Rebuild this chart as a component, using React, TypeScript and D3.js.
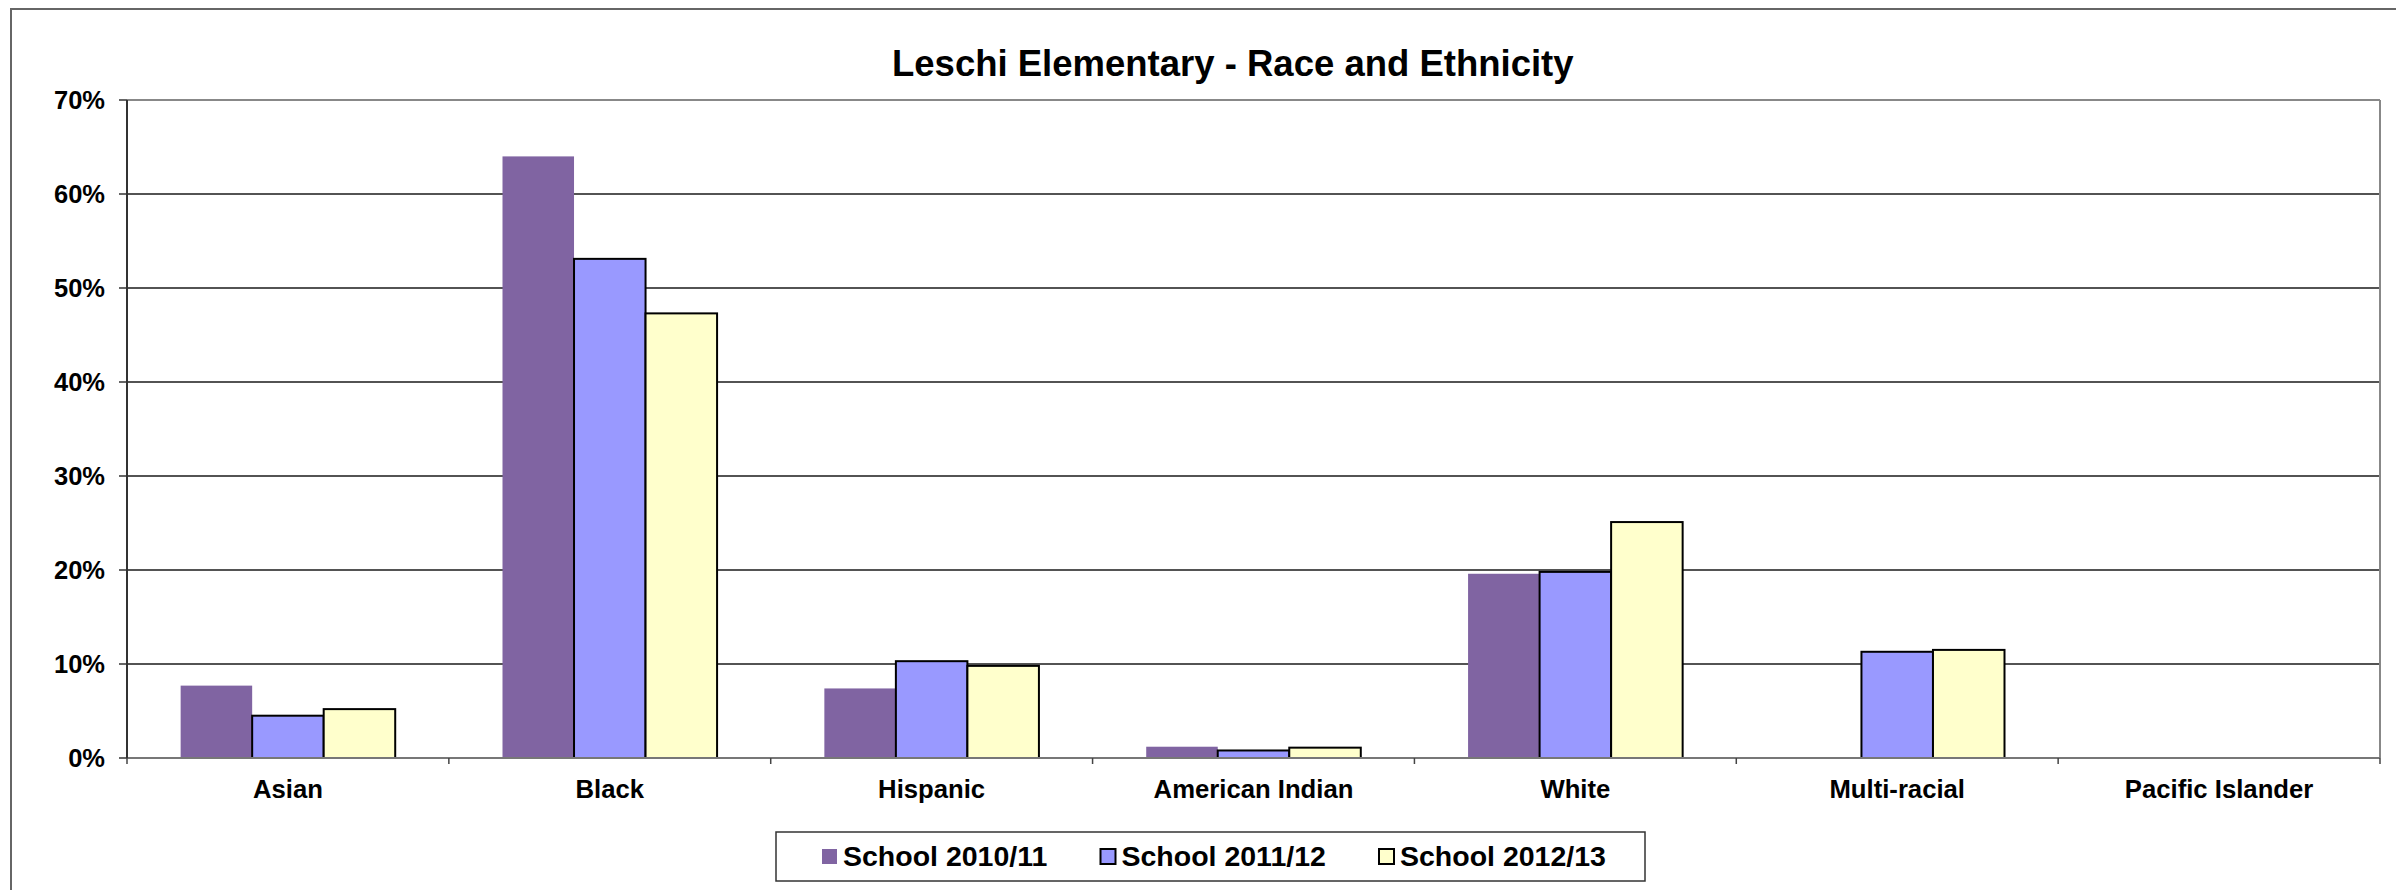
import React from 'react';
import * as d3 from 'd3';

const categories = ['Asian', 'Black', 'Hispanic', 'American Indian', 'White', 'Multi-racial', 'Pacific Islander'];
const seriesNames = ['School 2010/11', 'School 2011/12', 'School 2012/13'];
const values2010: (number | null)[] = [7.7, 64.0, 7.4, 1.2, 19.6, null, null];
const values2011: (number | null)[] = [4.5, 53.1, 10.3, 0.8, 19.8, 11.3, null];
const values2012: (number | null)[] = [5.2, 47.3, 9.8, 1.1, 25.1, 11.5, null];
const yTicks = [0, 10, 20, 30, 40, 50, 60, 70];
const seriesColors = ['#8064A2', '#9999FF', '#FFFFCC'];
const seriesStroke = ['none', '#000', '#000'];
const title = 'Leschi Elementary - Race and Ethnicity';

const W = 2396;
const H = 890;
const M = { left: 127, right: 2380, top: 100, bottom: 758 };
const FONT = '"Liberation Sans", Arial, sans-serif';

export default function App() {
  const series = [values2010, values2011, values2012];
  const x0 = d3.scaleBand<string>().domain(categories).range([M.left, M.right]).paddingInner(1 / 3).paddingOuter(1 / 6);
  const x1 = d3.scaleBand<string>().domain(seriesNames).range([0, x0.bandwidth()]).padding(0);
  const y = d3.scaleLinear().domain([0, 70]).range([M.bottom, M.top]);
  const step = x0.step();
  const boundaries = d3.range(categories.length + 1).map((i) => M.left + i * step);

  return (
    <svg width={W} height={H} style={{ position: 'absolute', left: 0, top: 0, background: '#fff' }} fontFamily={FONT}>
      <rect x={0} y={0} width={W} height={H} fill="#fff" />
      {/* outer chart border */}
      <rect x={11} y={9} width={W + 20} height={H + 20} fill="none" stroke="#666" strokeWidth={2} />
      {/* title */}
      <text x={892} y={76} fontSize={36.5} fontWeight="bold">{title}</text>

      {/* gridlines */}
      {yTicks.filter((t) => t > 0 && t < 70).map((t) => (
        <line key={t} x1={M.left} x2={M.right} y1={y(t)} y2={y(t)} stroke="#1a1a1a" strokeWidth={1.4} />
      ))}
      {/* plot frame top/right */}
      <line x1={M.left} x2={M.right} y1={y(70)} y2={y(70)} stroke="#888" strokeWidth={2} />
      <line x1={M.right} x2={M.right} y1={M.top} y2={M.bottom} stroke="#888" strokeWidth={2} />

      {/* bars */}
      {series.map((vals, si) => (
        <g key={si}>
          {vals.map((v, ci) => v == null ? null : (
            <rect key={ci}
              x={(x0(categories[ci]) as number) + (x1(seriesNames[si]) as number)}
              y={y(v)}
              width={x1.bandwidth()}
              height={y(0) - y(v)}
              fill={seriesColors[si]}
              stroke={seriesStroke[si]}
              strokeWidth={2}
            />
          ))}
        </g>
      ))}

      {/* axes */}
      <line x1={M.left} x2={M.right} y1={M.bottom} y2={M.bottom} stroke="#777" strokeWidth={2} />
      <line x1={M.left} x2={M.left} y1={M.top} y2={M.bottom} stroke="#333" strokeWidth={2} />
      {yTicks.map((t) => (
        <g key={t}>
          <line x1={M.left - 8} x2={M.left} y1={y(t)} y2={y(t)} stroke="#333" strokeWidth={1.5} />
          <text x={105} y={y(t) + 9} textAnchor="end" fontSize={25.5} fontWeight="bold">{`${t}%`}</text>
        </g>
      ))}
      {boundaries.map((bx, i) => (
        <line key={i} x1={bx} x2={bx} y1={M.bottom} y2={M.bottom + 6} stroke="#444" strokeWidth={1.5} />
      ))}
      {categories.map((c) => (
        <text key={c} x={(x0(c) as number) + x0.bandwidth() / 2} y={798} textAnchor="middle" fontSize={25.7} fontWeight="bold">{c}</text>
      ))}

      {/* legend */}
      <rect x={776} y={832} width={869} height={49} fill="#fff" stroke="#333" strokeWidth={1.5} />
      {seriesNames.map((s, i) => {
        const sx = 822 + i * 278.5;
        return (
          <g key={s}>
            <rect x={sx} y={849} width={15} height={15} fill={seriesColors[i]} stroke={seriesStroke[i]} strokeWidth={2} />
            <text x={sx + 21} y={866} fontSize={28.5} fontWeight="bold">{s}</text>
          </g>
        );
      })}
    </svg>
  );
}
